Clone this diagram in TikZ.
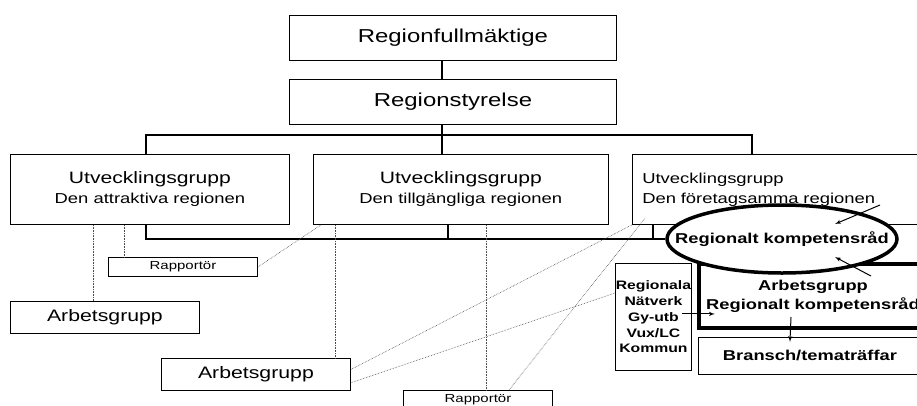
\documentclass[tikz,border=0pt]{standalone}
\usepackage{fontspec}
\setmainfont{Liberation Sans}[FakeStretch=1.28]
\usepackage{tikz}
\usetikzlibrary{arrows}
\usetikzlibrary{shapes.geometric}
\usetikzlibrary{calc}

\begin{document}
\begin{tikzpicture}[x=1pt,y=-1pt]

% Define block styles
\tikzstyle{ruta}=[draw, line width=0.9pt, fill=white, align=center,
  inner sep=0pt, anchor=north west]
\tikzstyle{huvud} = [ruta, minimum width=327, minimum height=45,
  font=\fontsize{18.7}{22}\selectfont]
\tikzstyle{utveckling} = [ruta, minimum height=70,
  font=\fontsize{14.4}{20}\selectfont]
\tikzstyle{grupp} = [ruta, minimum width=189, minimum height=32,
  font=\fontsize{16.6}{20}\selectfont]
\tikzstyle{rapport} = [ruta, minimum width=149, minimum height=19,
  font=\fontsize{11.7}{14}\selectfont]
\tikzstyle{fet} = [ruta, font=\bfseries\fontsize{14.3}{19}\selectfont]
\tikzstyle{linje} = [draw, line width=1.1pt]
\tikzstyle{prickad} = [draw, densely dotted, line width=0.6pt, color=black!70]
\tikzstyle{pil} = [draw, line width=1pt, -latex']

\newcommand{\stor}[1]{{\fontsize{16.5}{20}\selectfont #1}}

\newcommand{\lank}[2]{%
  \path [prickad] (#1) -- (#2);}

% Visible area
\useasboundingbox (0,0) rectangle (917,405);
\clip (0,0) rectangle (917,405);

% Draw diagram elements
\path node at (289,15) (fm) [huvud] {Regionfullmäktige};
\path (fm.south west)+(0,18) node (rs) [huvud] {Regionstyrelse};

\path node at (10,154) (u1) [utveckling, minimum width=279]
  {\stor{Utvecklingsgrupp}\\Den attraktiva regionen};
\path (u1.north east)+(23,0) node (u2) [utveckling, minimum width=295]
  {\stor{Utvecklingsgrupp}\\Den tillgängliga regionen};
\path (u2.north east)+(23,0) node (u3) [utveckling, text width=280,
  inner xsep=10pt, align=left]
  {\raisebox{3pt}{Utvecklingsgrupp}\\\raisebox{3pt}{Den företagsamma regionen}};

\path node at (108,257) (rap1) [rapport] {Rapportör};
\path node at (10,301) (ag1) [grupp] {Arbetsgrupp};
\path node at (161,358) (ag2) [grupp] {Arbetsgrupp};
\path node at (403,390) (rap2) [rapport] {Rapportör};

\path node at (615,263) (reg) [fet, minimum width=76, minimum height=107,
  font=\bfseries\fontsize{12.3}{15.7}\selectfont]
  {Regionala\\Nätverk\\Gy-utb\\Vux/LC\\Kommun};

\path node at (697,262) (ark) [fet, line width=4pt, minimum width=228,
  minimum height=64] {Arbetsgrupp\\Regionalt kompetensråd};
\path (ark.south west)+(1,7) node (br) [fet, minimum width=223,
  minimum height=37] {Bransch/tematräffar};

% Organisation lines
\draw[linje] (fm.south -| 442,0) -- (rs.north -| 442,0);
\draw[linje] (rs.south -| 442,0) -- (u2.north -| 442,0);
\draw[linje] (u1.north -| 146,0) -- ++(0,-19) -| (u3.north -| 752,0);

\path node at (782,239) (krs) [draw, ellipse, line width=3.5pt, fill=white,
  minimum width=230, minimum height=68, inner sep=0pt,
  font=\bfseries\fontsize{14.3}{17}\selectfont]
  {\makebox[0pt]{Regionalt kompetensråd}};

\draw[linje] (u1.south -| 146,0) |- (krs.west);
\draw[linje] (u2.south -| 448,0) -- (krs.west -| 448,0);
\draw[linje] (u3.south -| 653,0) -- (krs.west -| 653,0);

% Dotted links
\lank{u1.south -| 93,0}{ag1.north -| 93,0}
\lank{u1.south -| 124,0}{rap1.north -| 124,0}
\lank{rap1.east}{u2.south -| 321,0}
\lank{u2.south -| 335,0}{ag2.north -| 335,0}
\lank{u2.south -| 486,0}{rap2.north -| 486,0}
\lank{ag2.3}{u3.south west}
\lank{ag2.355}{$(reg.north west)+(0,30)$}
\coordinate (slut) at (645,218);
\lank{rap2.north -| 509,0}{slut}

% Arrows
\coordinate (in1) at (880,205);
\coordinate (ut1) at (835,224);
\coordinate (in2) at (871,276);
\coordinate (ut2) at (835,257);
\draw[pil] (in1) -- (ut1);
\draw[pil] (in2) -- (ut2);
\draw[pil] ($(reg.east)+(-10,-3)$) -- ++(33,0);
\draw[pil] ($(ark.south)+(-22,-13)$) -- ($(br.north)+(-20,5)$);

\end{tikzpicture}
\end{document}
